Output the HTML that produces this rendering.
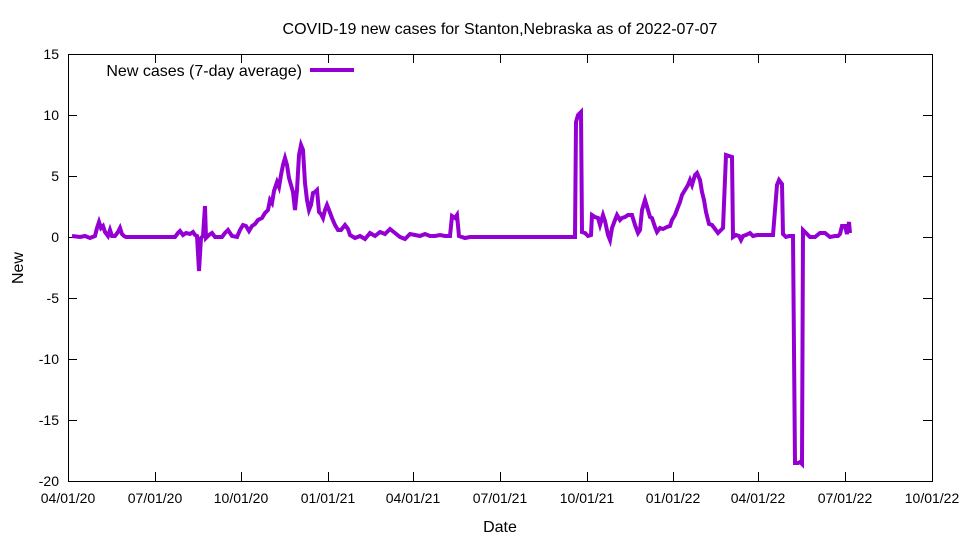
<!DOCTYPE html>
<html><head><meta charset="utf-8"><style>body{margin:0;background:#fff}svg{display:block}text{font-family:"Liberation Sans",sans-serif;font-size:14px;fill:#000}.b{font-size:16px}</style></head><body>
<svg width="960" height="540" xmlns="http://www.w3.org/2000/svg">
<rect width="960" height="540" fill="#fff"/>
<g stroke="#000" stroke-width="1" fill="none">
<rect x="68.5" y="54.5" width="864" height="427"/>
<path d="M68 115.5h9M68 176.5h9M68 237.5h9M68 298.5h9M68 359.5h9M68 420.5h9M932 115.5h-9M932 176.5h-9M932 237.5h-9M932 298.5h-9M932 359.5h-9M932 420.5h-9
M155.5 481v-9M241.5 481v-9M328.5 481v-9M413.5 481v-9M500.5 481v-9M587.5 481v-9M673.5 481v-9M758.5 481v-9M845.5 481v-9
M155.5 54v9M241.5 54v9M328.5 54v9M413.5 54v9M500.5 54v9M587.5 54v9M673.5 54v9M758.5 54v9M845.5 54v9"/>
</g>
<g text-anchor="end">
<text x="59" y="59">15</text><text x="59" y="120">10</text><text x="59" y="181">5</text><text x="59" y="242">0</text><text x="59" y="303">-5</text><text x="59" y="364">-10</text><text x="59" y="425">-15</text><text x="59" y="486">-20</text>
</g>
<g text-anchor="middle">
<text x="68" y="503">04/01/20</text><text x="155" y="503">07/01/20</text><text x="241" y="503">10/01/20</text><text x="328" y="503">01/01/21</text><text x="413" y="503">04/01/21</text><text x="500" y="503">07/01/21</text><text x="587" y="503">10/01/21</text><text x="673" y="503">01/01/22</text><text x="758" y="503">04/01/22</text><text x="845" y="503">07/01/22</text><text x="932" y="503">10/01/22</text>
<text class="b" x="500" y="532">Date</text>
<text class="b" x="500" y="34">COVID-19 new cases for Stanton,Nebraska as of 2022-07-07</text>
</g>
<text class="b" x="23" y="268" text-anchor="middle" transform="rotate(-90 23 268)">New</text>
<text class="b" x="302" y="76" text-anchor="end">New cases (7-day average)</text>
<line x1="310" y1="70" x2="354" y2="70" stroke="#9400d3" stroke-width="4"/>
<polyline fill="none" stroke="#9400d3" stroke-width="4" stroke-linejoin="miter" points="72,236 80,237 85,236 90,238 95,236 97,228 99,222 101,228 103,226 105,232 108,236 110,230 112,236 115,236 118,232 120,228 122,234 124,236 126,237 130,237 175,237 178,233 180,231 183,235 186,233 190,234 193,232 195,235 197,236 199,271 201,238 203,236 205,206 206,238 209,235 212,233 215,237 222,237 225,233 228,230 232,236 237,237 240,230 243,225 246,226 249,231 252,226 255,224 258,220 262,218 265,213 268,210 270,200 272,203 274,191 277,182 279,187 281,175 283,165 285,158 287,165 289,178 291,185 293,192 295,210 297,190 299,155 301,145 303,150 305,183 307,200 309,210 311,205 313,193 315,192 317,190 319,212 321,214 323,218 325,210 327,205 329,210 332,218 335,225 338,230 341,230 345,225 348,229 350,235 355,238 360,236 365,239 370,233 375,236 380,232 385,234 390,229 395,233 400,237 405,239 410,234 415,235 420,236 425,234 430,236 435,236 440,235 445,236 450,236 452,216 455,218 457,215 459,236 465,238 470,237 575,237 576,122 578,115 581,112 582,232 585,233 588,236 591,235 592,215 595,217 598,218 600,225 603,215 605,221 608,235 610,240 612,228 615,220 617,215 620,220 622,218 625,217 628,215 632,215 635,225 638,233 640,230 642,210 645,200 648,210 650,217 652,218 655,227 657,232 660,228 663,229 667,227 670,226 672,220 675,215 678,207 680,202 682,195 685,190 688,185 690,180 692,185 695,175 697,173 700,180 702,192 704,200 706,212 709,224 712,225 715,229 718,233 721,230 723,228 726,155 729,156 732,157 733,237 736,235 739,236 741,240 743,236 746,235 750,233 753,236 757,235 760,235 765,235 773,235 777,185 779,180 782,184 783,234 786,237 789,236 793,236 795,463 798,463 800,462 802,464 803,230 806,233 810,237 815,237 820,233 825,233 830,237 835,236 838,236 840,234 842,226 845,226 847,234 849,222 850,233"/>
</svg>
</body></html>
